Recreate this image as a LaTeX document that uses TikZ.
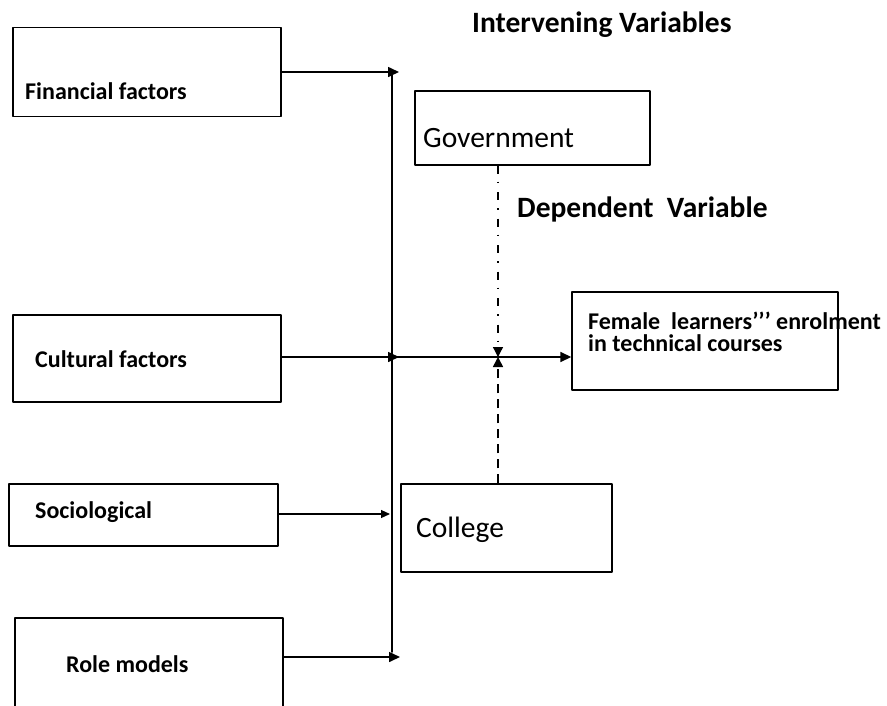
\documentclass[tikz,border=0pt]{standalone}
\usepackage{fontspec}
\setmainfont{Carlito}
\usetikzlibrary{arrows.meta,positioning}
\tikzset{
  every picture/.append style={line cap=round,line join=round},
  cf box/.style={draw,line width=1.4pt,inner sep=0pt},
  cf arrow/.style={line width=1.6pt,-{Triangle[length=11pt,width=10pt]}},
  cf thin arrow/.style={line width=1.1pt,-{Triangle[length=9pt,width=8pt]}},
  cf bus/.style={line width=1.6pt},
  cf dashdot/.style={line width=1.3pt,line cap=butt,dash pattern=on 8pt off 8pt on 1.5pt off 9pt,-{Triangle[length=10pt,width=10pt]}},
  cf dashed/.style={line width=1.6pt,line cap=butt,dash pattern=on 9pt off 6pt,-{Triangle[length=10pt,width=10pt]}},
  cf label/.style={font=\fontsize{24}{26}\selectfont\bfseries,anchor=base west,inner sep=0pt},
  cf head/.style={font=\fontsize{29.5}{32}\selectfont\bfseries,anchor=base west,inner sep=0pt},
  cf name/.style={font=\fontsize{29.5}{32}\selectfont,anchor=base west,inner sep=0pt}
}

\begin{document}
\begin{tikzpicture}[x=1pt,y=-1pt]
\useasboundingbox (0,0) rectangle (887,705);
\clip (0,0) rectangle (887,705);
\node[cf box,minimum width=268pt,minimum height=89pt] (fin) at (147,72) {};
\node[cf box,minimum width=268pt,minimum height=87pt] (cul) at (147,358.5) {};
\node[cf box,minimum width=269pt,minimum height=62pt] (soc) at (143.5,515) {};
\node[cf box,minimum width=268pt,minimum height=94pt] (role) at (149,665) {};
\node[cf box,minimum width=235pt,minimum height=74pt] (gov) at (532.5,128) {};
\node[cf box,minimum width=211pt,minimum height=88pt] (coll) at (506.5,528) {};
\node[cf box,minimum width=266pt,minimum height=98pt] (fem) at (705,341) {};
\node[cf label] (fin text) at (25,99) {Financial factors};
\node[cf label] (cul text) at (35,367) {Cultural factors};
\node[cf label] (soc text) at (35,518) {Sociological};
\node[cf label] (role text) at (66,672) {Role models};
\node[cf name] (gov text) at (423,147) {Government};
\node[cf name] (coll text) at (416,537) {College};
\node[cf head] (inter) at (472,32) {Intervening Variables};
\node[cf head] (dep) at (517,217) {Dependent\ \ Variable};
\node[font=\fontsize{24}{22}\selectfont\bfseries,align=left,anchor=north west,inner sep=0pt] (fem text) at (588,312)
  {Female\ \ learners’’’ enrolment\\in technical courses};
\coordinate (bus top) at (392,72);
\coordinate (bus end) at (392,652);
\coordinate (bus mid) at (392,357);
\coordinate (junc) at (498,357);
\draw[cf bus] (bus top) -- (bus end);
\draw[cf arrow] (fin.east) -- (399,72);
\draw[cf arrow] (cul.east |- bus mid) -- (399,357);
\draw[cf thin arrow] (soc.east |- 0,514) -- (390,514);
\draw[cf arrow] (role.east |- 0,657) -- (400,657);
\draw[cf arrow] (bus mid) -- (junc -| fem.west);
\draw[cf dashdot] (gov.south -| junc) -- (junc);
\draw[cf dashed] (coll.north -| junc) -- (junc);
\end{tikzpicture}
\end{document}
